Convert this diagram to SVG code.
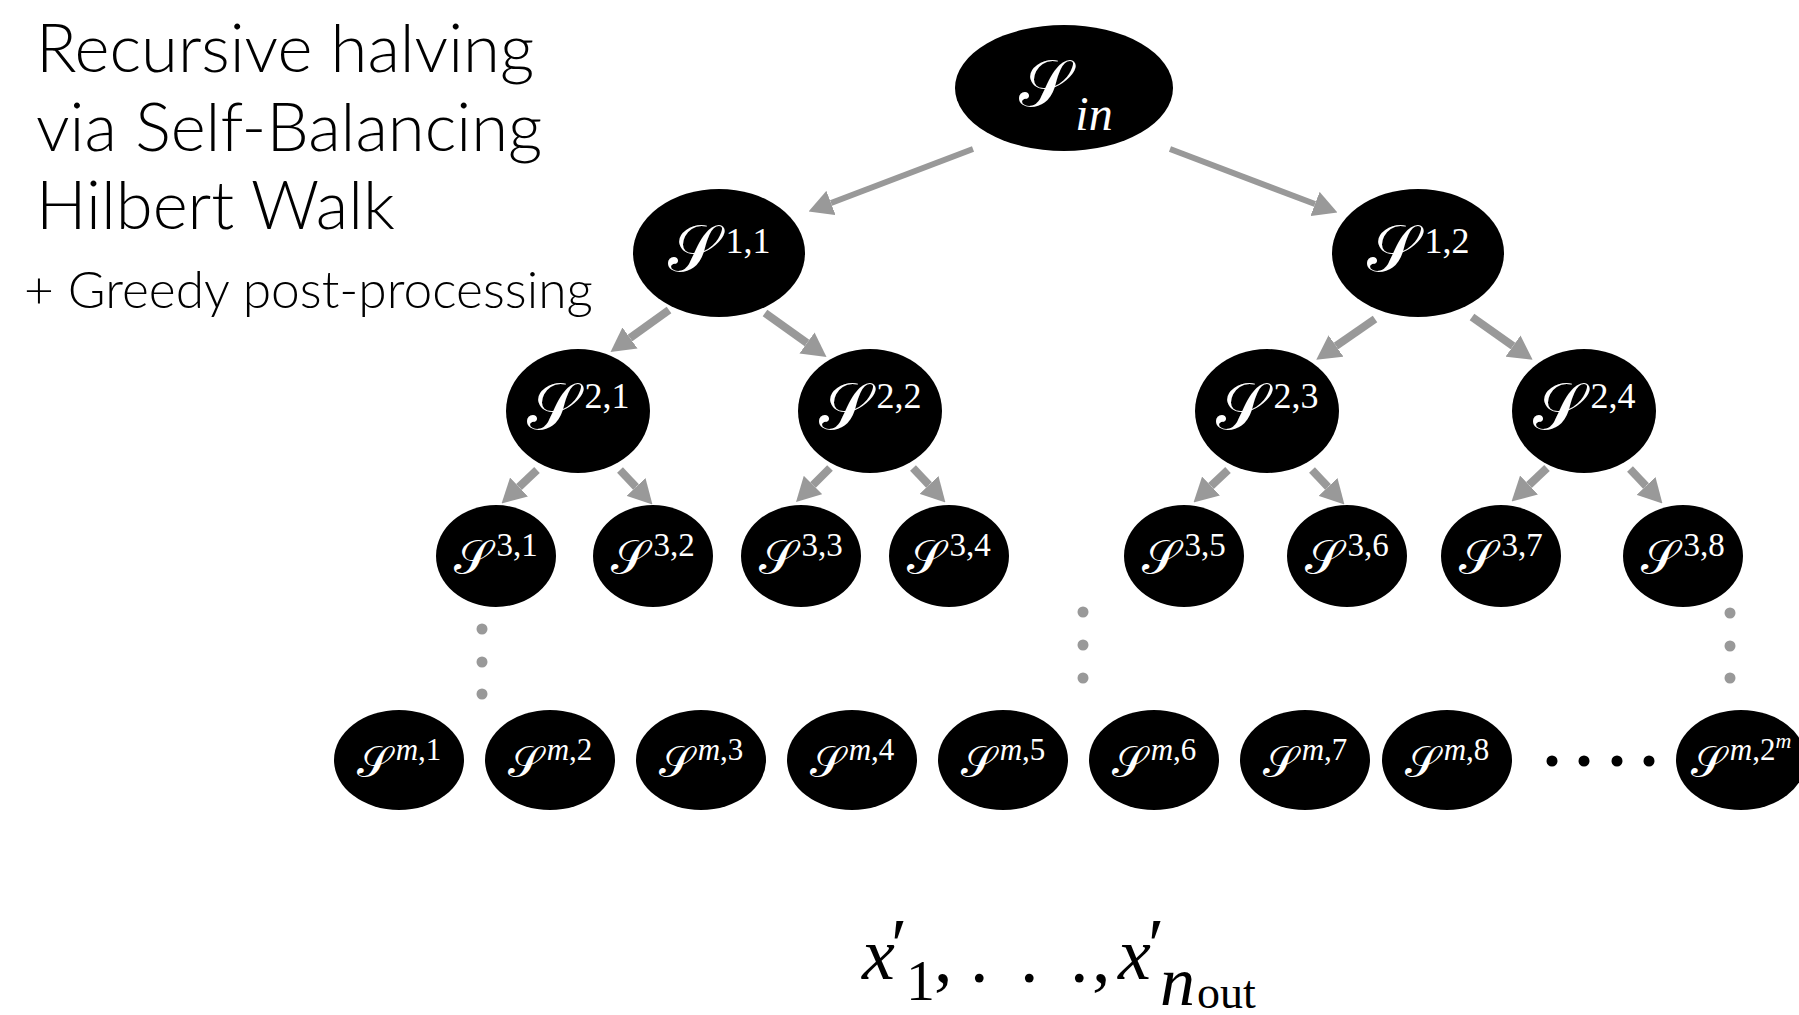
<svg xmlns="http://www.w3.org/2000/svg" width="1799" height="1015" viewBox="0 0 1799 1015">
<style>
.bg{fill:#fff}
.node ellipse{fill:#000}
.lbl{font-family:"Liberation Serif","DejaVu Serif",serif;fill:#fff;text-anchor:middle}
.title{font-family:Lato,"Noto Sans",sans-serif;fill:#000;font-weight:300}
.conn line{stroke:#999;fill:none}
.a1{stroke-width:6}
.a2{stroke-width:8}
.vdot{fill:#999}
.hdot{fill:#000}
.math{font-family:"Liberation Serif","DejaVu Serif",serif;fill:#000}
</style>
<defs>
<marker id="ah" markerUnits="userSpaceOnUse" markerWidth="24" markerHeight="26" refX="0" refY="13" orient="auto">
<path d="M0,0 L24,13 L0,26 z" fill="#999"/>
</marker>
</defs>
<rect class="bg" x="0" y="0" width="1799" height="1015"/>

<g id="title">
<text class="title" x="36" y="72" font-size="67">Recursive halving</text>
<text class="title" x="36" y="151" font-size="67">via Self-Balancing</text>
<text class="title" x="36" y="229" font-size="67">Hilbert Walk</text>
<text class="title" x="24" y="308" font-size="51.5">+ Greedy post-processing</text>
</g>

<g id="connectors" class="conn">
<line class="a1" x1="973" y1="149" x2="831" y2="203" marker-end="url(#ah)"/>
<line class="a1" x1="1170" y1="149" x2="1315" y2="204" marker-end="url(#ah)"/>
<line class="a2" x1="669" y1="310" x2="630" y2="338" marker-end="url(#ah)"/>
<line class="a2" x1="765" y1="313" x2="807" y2="343" marker-end="url(#ah)"/>
<line class="a2" x1="1375" y1="319" x2="1336" y2="346" marker-end="url(#ah)"/>
<line class="a2" x1="1472" y1="317" x2="1513" y2="346" marker-end="url(#ah)"/>
<line class="a2" x1="537" y1="470" x2="519" y2="487" marker-end="url(#ah)"/>
<line class="a2" x1="620" y1="470" x2="636" y2="487" marker-end="url(#ah)"/>
<line class="a2" x1="830" y1="468" x2="813" y2="485" marker-end="url(#ah)"/>
<line class="a2" x1="913" y1="468" x2="929" y2="485" marker-end="url(#ah)"/>
<line class="a2" x1="1228" y1="470" x2="1211" y2="486" marker-end="url(#ah)"/>
<line class="a2" x1="1312" y1="470" x2="1328" y2="487" marker-end="url(#ah)"/>
<line class="a2" x1="1547" y1="468" x2="1529" y2="485" marker-end="url(#ah)"/>
<line class="a2" x1="1630" y1="469" x2="1646" y2="486" marker-end="url(#ah)"/>
</g>

<g id="vdots">
<circle class="vdot" cx="482" cy="629" r="5.5"/>
<circle class="vdot" cx="482" cy="662" r="5.5"/>
<circle class="vdot" cx="482" cy="694" r="5.5"/>
<circle class="vdot" cx="1083" cy="612" r="5.5"/>
<circle class="vdot" cx="1083" cy="645" r="5.5"/>
<circle class="vdot" cx="1083" cy="678" r="5.5"/>
<circle class="vdot" cx="1730" cy="613" r="5.5"/>
<circle class="vdot" cx="1730" cy="646" r="5.5"/>
<circle class="vdot" cx="1730" cy="678" r="5.5"/>
</g>
<g id="hdots">
<circle class="hdot" cx="1552" cy="761" r="5.5"/>
<circle class="hdot" cx="1584" cy="761" r="5.5"/>
<circle class="hdot" cx="1617" cy="761" r="5.5"/>
<circle class="hdot" cx="1649" cy="761" r="5.5"/>
</g>

<g id="n-in" class="node"><ellipse cx="1064" cy="88" rx="109" ry="63"/>
<text class="lbl" x="1066" y="106"><tspan font-size="66">𝒮</tspan><tspan font-size="48" font-style="italic" dx="5" dy="24">in</tspan></text></g>

<g id="n-1-1" class="node"><ellipse cx="719" cy="253" rx="86" ry="64"/>
<text class="lbl" x="719" y="271"><tspan font-size="66">𝒮</tspan><tspan font-size="36" dx="7" dy="-18">1,1</tspan></text></g>
<g id="n-1-2" class="node"><ellipse cx="1418" cy="253" rx="86" ry="64"/>
<text class="lbl" x="1418" y="271"><tspan font-size="66">𝒮</tspan><tspan font-size="36" dx="7" dy="-18">1,2</tspan></text></g>

<g id="n-2-1" class="node"><ellipse cx="578" cy="411" rx="72" ry="62"/>
<text class="lbl" x="578" y="429"><tspan font-size="66">𝒮</tspan><tspan font-size="36" dx="7" dy="-21">2,1</tspan></text></g>
<g id="n-2-2" class="node"><ellipse cx="870" cy="411" rx="72" ry="62"/>
<text class="lbl" x="870" y="429"><tspan font-size="66">𝒮</tspan><tspan font-size="36" dx="7" dy="-21">2,2</tspan></text></g>
<g id="n-2-3" class="node"><ellipse cx="1267" cy="411" rx="72" ry="62"/>
<text class="lbl" x="1267" y="429"><tspan font-size="66">𝒮</tspan><tspan font-size="36" dx="7" dy="-21">2,3</tspan></text></g>
<g id="n-2-4" class="node"><ellipse cx="1584" cy="411" rx="72" ry="62"/>
<text class="lbl" x="1584" y="429"><tspan font-size="66">𝒮</tspan><tspan font-size="36" dx="7" dy="-21">2,4</tspan></text></g>

<g id="n-3-1" class="node"><ellipse cx="496" cy="556" rx="60" ry="51"/>
<text class="lbl" x="496" y="574"><tspan font-size="48">𝒮</tspan><tspan font-size="33" dx="5" dy="-18">3,1</tspan></text></g>
<g id="n-3-2" class="node"><ellipse cx="653" cy="556" rx="60" ry="51"/>
<text class="lbl" x="653" y="574"><tspan font-size="48">𝒮</tspan><tspan font-size="33" dx="5" dy="-18">3,2</tspan></text></g>
<g id="n-3-3" class="node"><ellipse cx="801" cy="556" rx="60" ry="51"/>
<text class="lbl" x="801" y="574"><tspan font-size="48">𝒮</tspan><tspan font-size="33" dx="5" dy="-18">3,3</tspan></text></g>
<g id="n-3-4" class="node"><ellipse cx="949" cy="556" rx="60" ry="51"/>
<text class="lbl" x="949" y="574"><tspan font-size="48">𝒮</tspan><tspan font-size="33" dx="5" dy="-18">3,4</tspan></text></g>
<g id="n-3-5" class="node"><ellipse cx="1184" cy="556" rx="60" ry="51"/>
<text class="lbl" x="1184" y="574"><tspan font-size="48">𝒮</tspan><tspan font-size="33" dx="5" dy="-18">3,5</tspan></text></g>
<g id="n-3-6" class="node"><ellipse cx="1347" cy="556" rx="60" ry="51"/>
<text class="lbl" x="1347" y="574"><tspan font-size="48">𝒮</tspan><tspan font-size="33" dx="5" dy="-18">3,6</tspan></text></g>
<g id="n-3-7" class="node"><ellipse cx="1501" cy="556" rx="60" ry="51"/>
<text class="lbl" x="1501" y="574"><tspan font-size="48">𝒮</tspan><tspan font-size="33" dx="5" dy="-18">3,7</tspan></text></g>
<g id="n-3-8" class="node"><ellipse cx="1683" cy="556" rx="60" ry="51"/>
<text class="lbl" x="1683" y="574"><tspan font-size="48">𝒮</tspan><tspan font-size="33" dx="5" dy="-18">3,8</tspan></text></g>

<g id="n-m-1" class="node"><ellipse cx="399" cy="760" rx="65" ry="50"/>
<text class="lbl" x="399" y="777"><tspan font-size="44">𝒮</tspan><tspan font-size="31" dx="5" dy="-17"><tspan font-style="italic">m</tspan>,1</tspan></text></g>
<g id="n-m-2" class="node"><ellipse cx="550" cy="760" rx="65" ry="50"/>
<text class="lbl" x="550" y="777"><tspan font-size="44">𝒮</tspan><tspan font-size="31" dx="5" dy="-17"><tspan font-style="italic">m</tspan>,2</tspan></text></g>
<g id="n-m-3" class="node"><ellipse cx="701" cy="760" rx="65" ry="50"/>
<text class="lbl" x="701" y="777"><tspan font-size="44">𝒮</tspan><tspan font-size="31" dx="5" dy="-17"><tspan font-style="italic">m</tspan>,3</tspan></text></g>
<g id="n-m-4" class="node"><ellipse cx="852" cy="760" rx="65" ry="50"/>
<text class="lbl" x="852" y="777"><tspan font-size="44">𝒮</tspan><tspan font-size="31" dx="5" dy="-17"><tspan font-style="italic">m</tspan>,4</tspan></text></g>
<g id="n-m-5" class="node"><ellipse cx="1003" cy="760" rx="65" ry="50"/>
<text class="lbl" x="1003" y="777"><tspan font-size="44">𝒮</tspan><tspan font-size="31" dx="5" dy="-17"><tspan font-style="italic">m</tspan>,5</tspan></text></g>
<g id="n-m-6" class="node"><ellipse cx="1154" cy="760" rx="65" ry="50"/>
<text class="lbl" x="1154" y="777"><tspan font-size="44">𝒮</tspan><tspan font-size="31" dx="5" dy="-17"><tspan font-style="italic">m</tspan>,6</tspan></text></g>
<g id="n-m-7" class="node"><ellipse cx="1305" cy="760" rx="65" ry="50"/>
<text class="lbl" x="1305" y="777"><tspan font-size="44">𝒮</tspan><tspan font-size="31" dx="5" dy="-17"><tspan font-style="italic">m</tspan>,7</tspan></text></g>
<g id="n-m-8" class="node"><ellipse cx="1447" cy="760" rx="65" ry="50"/>
<text class="lbl" x="1447" y="777"><tspan font-size="44">𝒮</tspan><tspan font-size="31" dx="5" dy="-17"><tspan font-style="italic">m</tspan>,8</tspan></text></g>
<g id="n-m-2m" class="node"><ellipse cx="1741" cy="760" rx="65" ry="50"/>
<text class="lbl" x="1741" y="777"><tspan font-size="44">𝒮</tspan><tspan font-size="31" dx="5" dy="-17"><tspan font-style="italic">m</tspan>,2</tspan><tspan font-size="22" font-style="italic" dy="-12">m</tspan></text></g>

<g id="output">
<text class="math" font-size="74"><tspan x="862" y="979" font-style="italic">x</tspan><tspan x="891" y="970">′</tspan><tspan x="906" y="1000" font-size="58">1</tspan><tspan x="934" y="982">,</tspan><tspan x="970 1020 1070" y="982">...</tspan><tspan x="1092" y="982">,</tspan><tspan x="1118" y="979" font-style="italic">x</tspan><tspan x="1148" y="970">′</tspan><tspan x="1160" y="1005" font-size="70" font-style="italic">n</tspan><tspan x="1197" y="1008" font-size="46">out</tspan></text>
</g>
</svg>
